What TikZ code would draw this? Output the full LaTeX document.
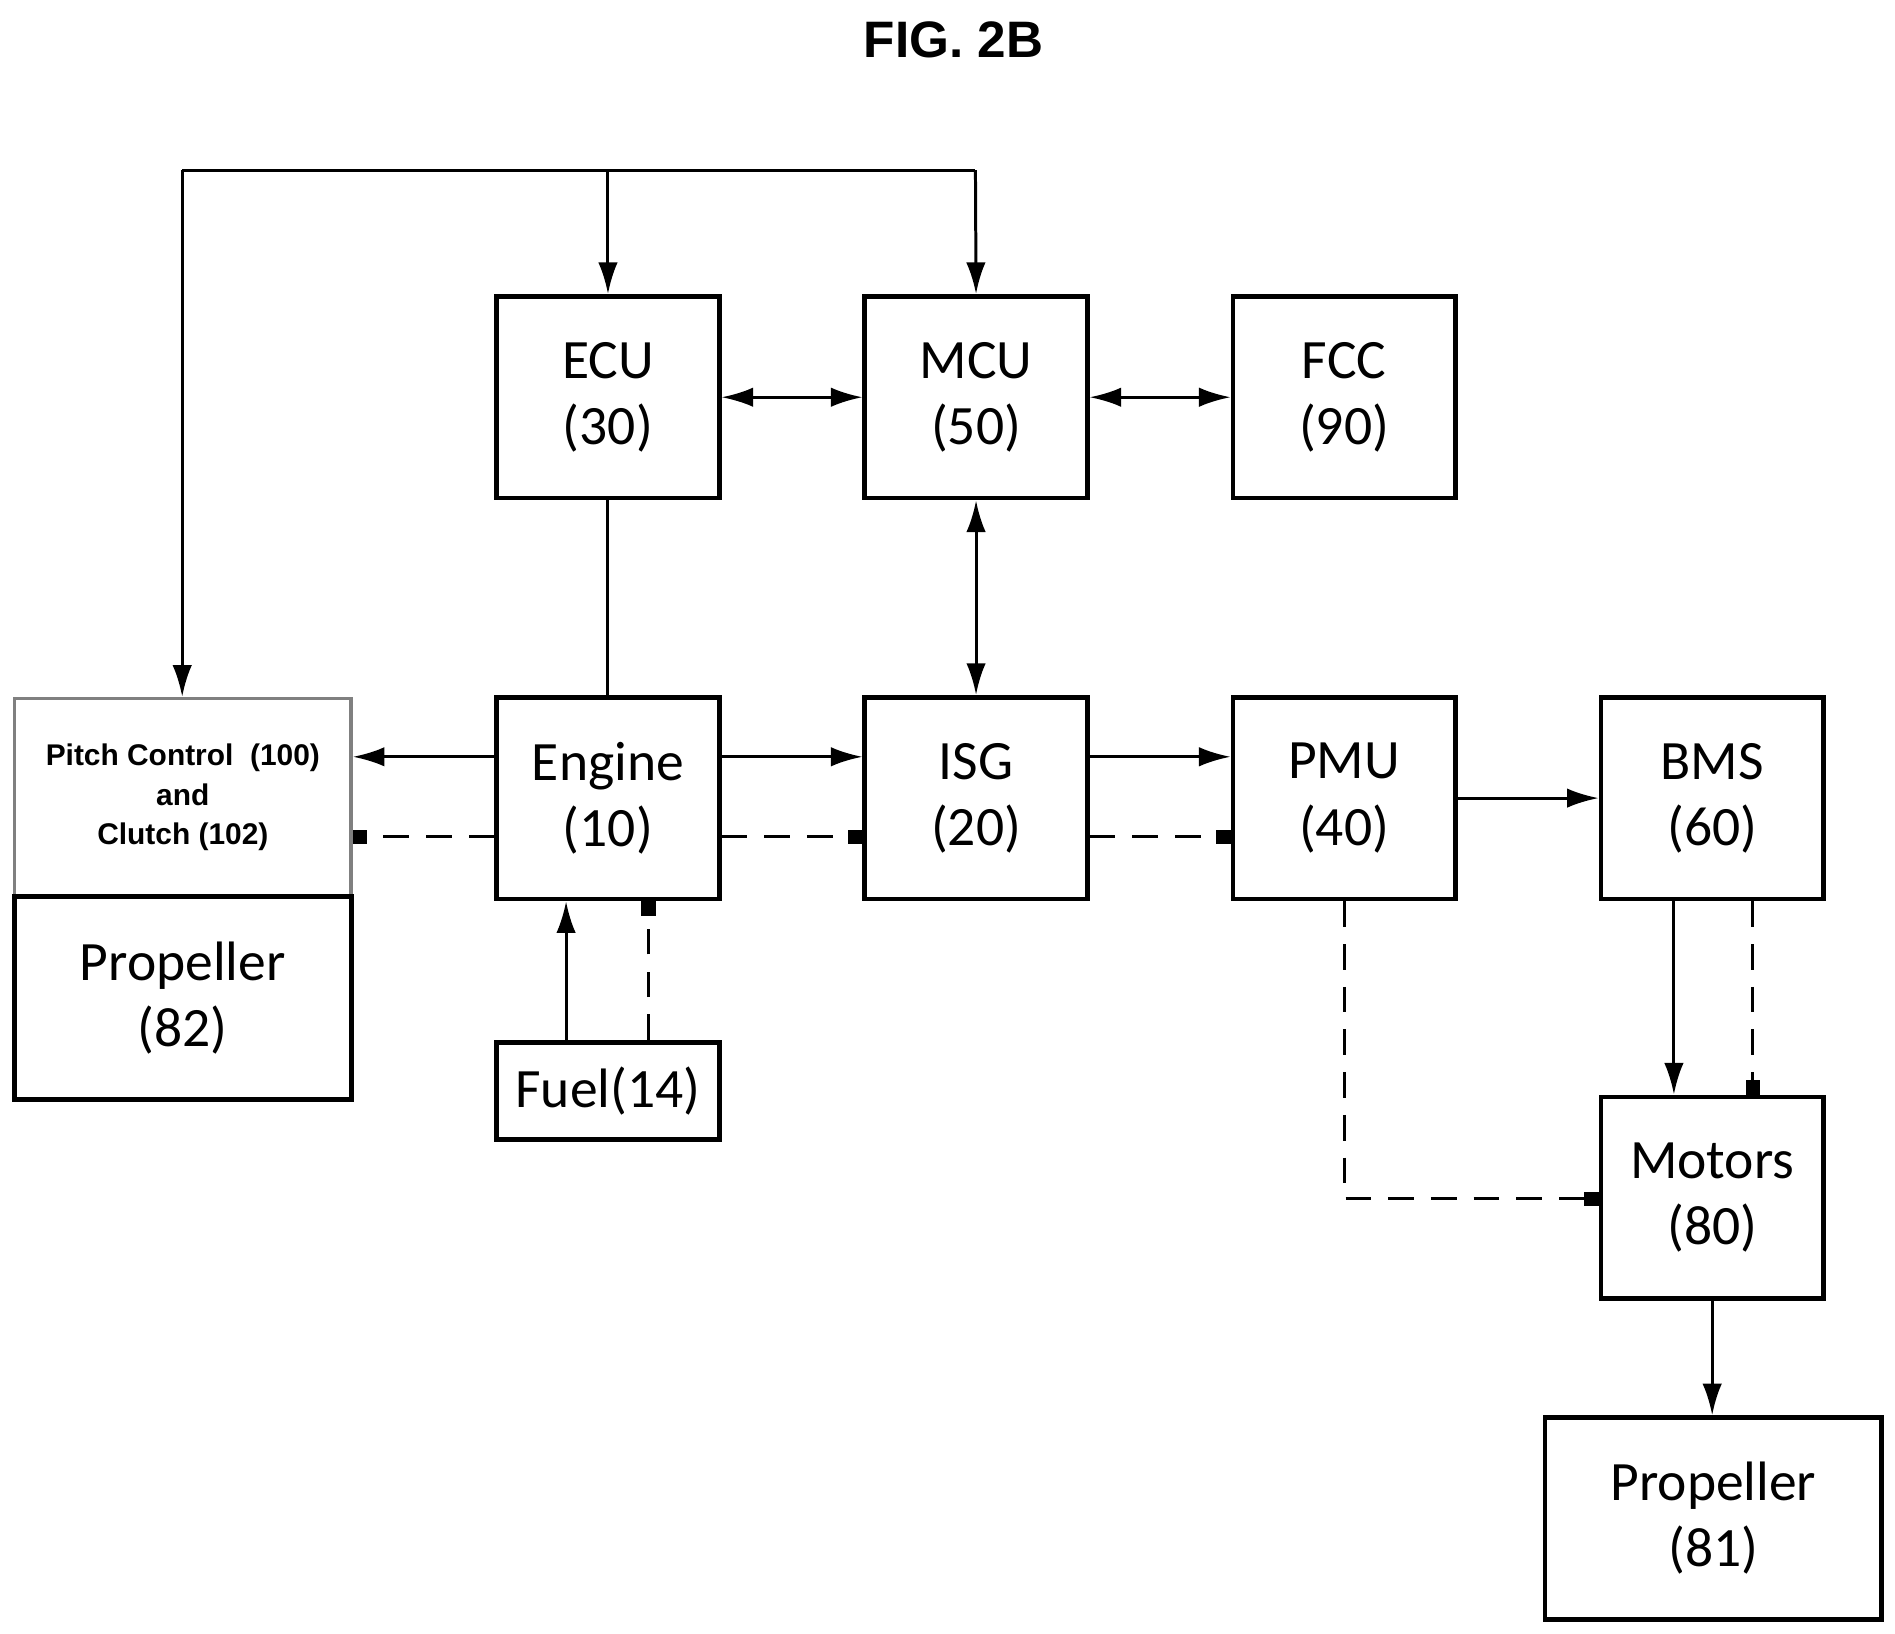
\documentclass[tikz,border=0pt]{standalone}
\usepackage{fontspec}
\setmainfont{Carlito}
\newfontfamily\arialf{Liberation Sans}
\usetikzlibrary{arrows.meta}
\begin{document}
\begin{tikzpicture}[x=0.01cm,y=-0.01cm,
 box/.style={draw,line width=1.1pt,minimum width=1.83cm,minimum height=1.66cm,align=center,font=\fontsize{13}{15.5}\selectfont,inner sep=0pt},
 ln/.style={line width=0.7pt},
 sa/.style={ln,-{Latex[length=2.6mm,width=1.6mm]}},
 ba/.style={ln,{Latex[length=2.6mm,width=1.6mm]}-{Latex[length=2.6mm,width=1.6mm]}},
 da/.style={ln,dash pattern=on 6pt off 4pt,-{Square[length=1.2mm,width=1.2mm]}}]
\useasboundingbox (0,0) rectangle (1560,1345);
\node[font=\arialf\bfseries\fontsize{12}{14}\selectfont] (t) at (785,33) {FIG. 2B};
\node[box] (ecu) at (500.5,327) {ECU\\(30)};
\node[box] (mcu) at (803.5,327) {MCU\\(50)};
\node[box] (fcc) at (1106.5,327) {FCC\\(90)};
\node[box,draw=gray,line width=0.8pt,minimum width=2.77cm,minimum height=1.63cm,font=\arialf\bfseries\fontsize{7}{9.2}\selectfont] (pc) at (150.5,656.5) {Pitch Control\ \ (100)\\and\\Clutch (102)};
\node[box,minimum width=2.77cm,minimum height=1.67cm] (p82) at (150.5,821.5) {Propeller\\(82)};
\node[box] (eng) at (500.5,657) {Engine\\(10)};
\node[box] (isg) at (803.5,657) {ISG\\(20)};
\node[box] (pmu) at (1106.5,657) {PMU\\(40)};
\node[box] (bms) at (1409.5,657) {BMS\\(60)};
\node[box,minimum height=0.8cm] (fuel) at (500.5,898) {Fuel(14)};
\node[box] (mot) at (1409.5,986) {Motors\\(80)};
\node[box,minimum width=2.77cm] (p81) at (1410.5,1250) {Propeller\\(81)};
\coordinate (c1) at (150,140); \coordinate (c2) at (803,140);
\draw[ln] (c1) -- (c2);
\draw[sa] (c1) -- (pc.north -| c1);
\draw[sa] (ecu.north |- c1) -- (ecu.north);
\draw[sa] (c2) -- (mcu.north);
\draw[ba] (ecu.east) -- (mcu.west);
\draw[ba] (mcu.east) -- (fcc.west);
\draw[ba] (mcu.south) -- (isg.north);
\draw[ln] (ecu.south) -- (eng.north);
\draw[sa] (eng.west |- 0,623) -- (pc.east |- 0,623);
\draw[da] (eng.west |- 0,689) -- (pc.east |- 0,689);
\draw[sa] (eng.east |- 0,623) -- (isg.west |- 0,623);
\draw[da] (eng.east |- 0,689) -- (isg.west |- 0,689);
\draw[sa] (isg.east |- 0,623) -- (pmu.west |- 0,623);
\draw[da] (isg.east |- 0,689) -- (pmu.west |- 0,689);
\draw[sa] (pmu.east |- 0,657) -- (bms.west |- 0,657);
\draw[sa] (fuel.north -| 466,0) -- (eng.south -| 466,0);
\draw[da] (fuel.north -| 534,0) -- (eng.south -| 534,0);
\draw[sa] (bms.south -| 1378,0) -- (mot.north -| 1378,0);
\draw[da] (bms.south -| 1443,0) -- (mot.north -| 1443,0);
\draw[da] (pmu.south) |- (mot.west |- 0,987);
\draw[sa] (mot.south) -- (p81.north -| mot.south);
\end{tikzpicture}
\end{document}
